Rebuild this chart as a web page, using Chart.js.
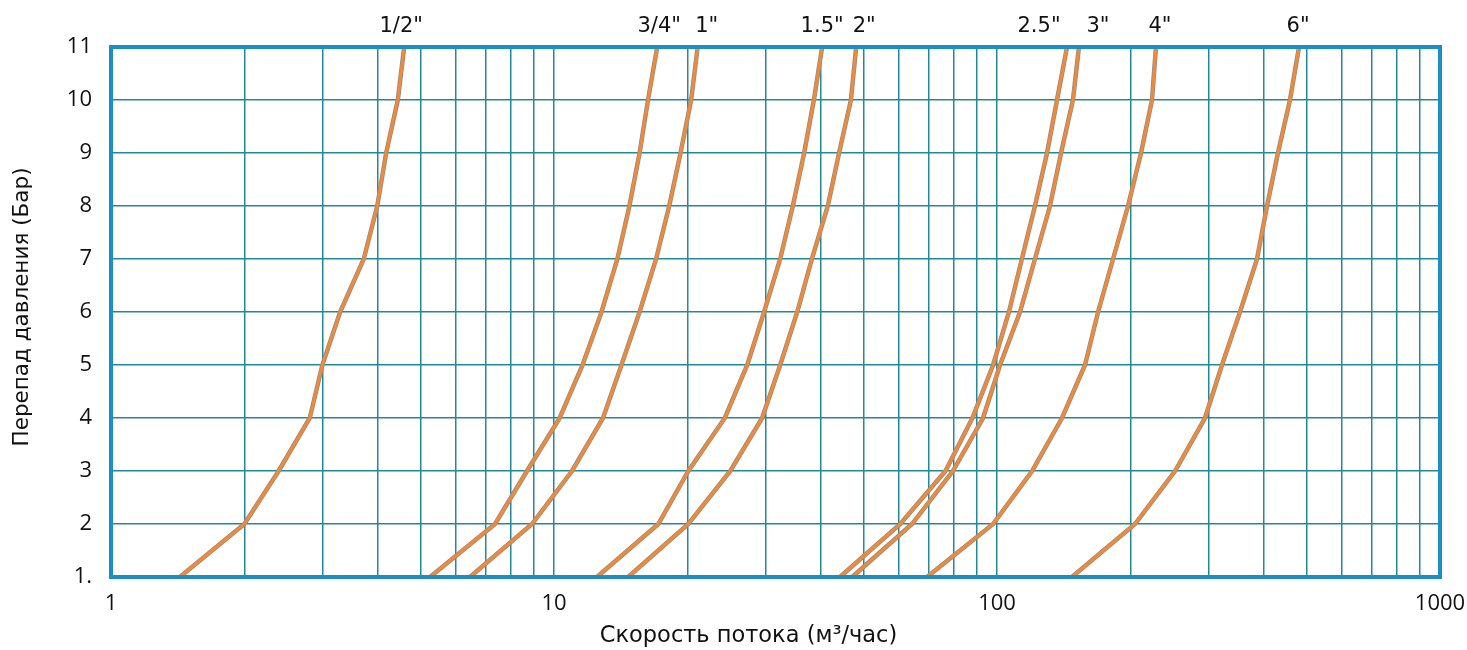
<!DOCTYPE html>
<html lang="ru">
<head>
<meta charset="utf-8">
<title>Перепад давления / скорость потока</title>
<script src="https://cdn.jsdelivr.net/npm/chart.js@4.4.1/dist/chart.umd.min.js"></script>
<style>
  html, body { margin:0; padding:0; background:#fff; }
  #wrap { width:1467px; height:650px; position:relative; }
</style>
</head>
<body>
<div id="wrap"><canvas id="flow-chart"></canvas></div>
<script>
/* ----------------------------------------------------------
   Data: flow (m3/h) at each pressure step
   ---------------------------------------------------------- */
const pressureBar = [1, 2, 3, 4, 5, 6, 7, 8, 9, 10, 11];

const flowHalf       = [1.43, 2.0, 2.39, 2.81, 3.0, 3.29, 3.72, 3.99, 4.18, 4.44, 4.59];
const flowThreeQtr   = [5.25, 7.36, 8.69, 10.3, 11.6, 12.8, 13.9, 14.8, 15.6, 16.3, 17.1];
const flowOne        = [6.46, 8.92, 10.98, 12.9, 14.2, 15.6, 17.0, 18.2, 19.3, 20.4, 21.1];
const flowOneHalf    = [12.5, 17.2, 20.1, 24.3, 27.3, 29.8, 32.4, 34.6, 36.7, 38.6, 40.3];
const flowTwo        = [14.7, 20.1, 25.0, 29.5, 32.4, 35.4, 38.2, 41.5, 44.0, 46.8, 48.1];
const flowTwoHalf    = [44.2, 60.5, 76.5, 88.0, 98.0, 106.4, 113.8, 121.8, 129.7, 136.6, 143.9];
const flowThree      = [47.1, 64.3, 79.5, 93.0, 101.6, 112.7, 121.8, 131.7, 139.5, 148.4, 153.1];
const flowFour       = [69.5, 98.0, 120.0, 140.2, 158.0, 169.1, 182.8, 197.6, 211.4, 223.8, 228.5];
const flowSix        = [147.6, 204.9, 252.3, 294.8, 322.0, 353.6, 386.3, 407.0, 430.7, 458.5, 480.6];

const pipeSizes  = ['1/2"', '3/4"', '1"', '1.5"', '2"', '2.5"', '3"', '4"', '6"'];
const pipeFlows  = [flowHalf, flowThreeQtr, flowOne, flowOneHalf, flowTwo, flowTwoHalf, flowThree, flowFour, flowSix];

const xTickLabels = ['1', '10', '100', '1000'];
const yTickLabels = ['1.', '2', '3', '4', '5', '6', '7', '8', '9', '10', '11'];

const xTitle = 'Скорость потока (м³/час)';
const yTitle = 'Перепад давления (Бар)';

/* ----------------------------------------------------------
   Styling
   ---------------------------------------------------------- */
const FONT     = '"Open Sans", "DejaVu Sans", sans-serif';
const FONT_W   = '"DejaVu Sans", Verdana, sans-serif';
const GRID     = '#23899a';
const FRAME    = '#1b8ec6';
const ORANGE   = '#ee8a3c';
const OUTLINE  = '#978a7e';
// nudge of each size label from the top end of its curve (px)
const LABEL_DX = [-3, 2, 9, 0, 8, -28, 19, 4, -1];

/* ----------------------------------------------------------
   Datasets: grey outline under an orange stroke
   ---------------------------------------------------------- */
const datasets = [];
pipeFlows.forEach((flows, i) => {
  const pts = flows.map((f, k) => ({ x: f, y: pressureBar[k] }));
  datasets.push({ label: pipeSizes[i] + ' outline', data: pts, borderColor: OUTLINE,
                  borderWidth: 4.5, pointRadius: 0, tension: 0, order: 1, clip: 4 });
  datasets.push({ label: pipeSizes[i], data: pts, borderColor: ORANGE,
                  borderWidth: 3, pointRadius: 0, tension: 0, order: 0, clip: 4 });
});

/* ----------------------------------------------------------
   Plugin: frame, size labels, axis titles
   ---------------------------------------------------------- */
const decorPlugin = {
  id: 'decor',
  afterDatasetsDraw(chart) {
    const { ctx, chartArea: a, scales: { x } } = chart;
    ctx.save();
    ctx.strokeStyle = FRAME;
    ctx.lineWidth = 4;
    ctx.strokeRect(a.left, a.top, a.right - a.left, a.bottom - a.top);

    ctx.fillStyle = '#111';
    ctx.font = '21px ' + FONT_W;
    ctx.textAlign = 'center';
    ctx.textBaseline = 'middle';
    pipeFlows.forEach((flows, i) => {
      const top = flows[flows.length - 1];
      ctx.fillText(pipeSizes[i], x.getPixelForValue(top) + LABEL_DX[i], a.top - 20);
    });

    ctx.font = '22.5px ' + FONT_W;
    ctx.fillText(xTitle, (a.left + a.right) / 2 - 27, 636);
    ctx.font = '21.5px ' + FONT_W;
    ctx.translate(22, (a.top + a.bottom) / 2 - 5);
    ctx.rotate(-Math.PI / 2);
    ctx.fillText(yTitle, 0, 0);
    ctx.restore();
  }
};

/* ----------------------------------------------------------
   Chart
   ---------------------------------------------------------- */
new Chart(document.getElementById('flow-chart'), {
  type: 'line',
  data: { datasets },
  options: {
    responsive: true, maintainAspectRatio: false, animation: false,
    layout: { padding: { top: 47, right: 27, left: 0, bottom: 0 } },
    plugins: { legend: { display: false }, tooltip: { enabled: false } },
    scales: {
      x: {
        type: 'logarithmic', min: 1, max: 1000,
        afterBuildTicks(scale) {
          const t = [];
          [1, 10, 100].forEach(d => { for (let m = 1; m < 10; m++) t.push({ value: m * d }); });
          t.push({ value: 1000 });
          scale.ticks = t;
        },
        afterFit(scale) { scale.height = 73; scale.paddingLeft = 0; scale.paddingRight = 0; },
        grid: { color: GRID, lineWidth: 1.5, drawTicks: false },
        border: { display: false },
        ticks: {
          autoSkip: false, maxRotation: 0, padding: 14, color: '#111',
          font: { family: FONT, size: 22 },
          callback: v => {
            const idx = [1, 10, 100, 1000].indexOf(v);
            return idx >= 0 ? xTickLabels[idx] : '';
          }
        }
      },
      y: {
        type: 'linear', min: 1, max: 11,
        afterFit(scale) { scale.width = 111; },
        grid: { color: GRID, lineWidth: 1.5, drawTicks: false },
        border: { display: false },
        ticks: {
          stepSize: 1, padding: 19, color: '#111',
          font: { family: FONT, size: 22 },
          callback: v => yTickLabels[v - 1]
        }
      }
    }
  },
  plugins: [decorPlugin]
});
</script>
</body>
</html>
